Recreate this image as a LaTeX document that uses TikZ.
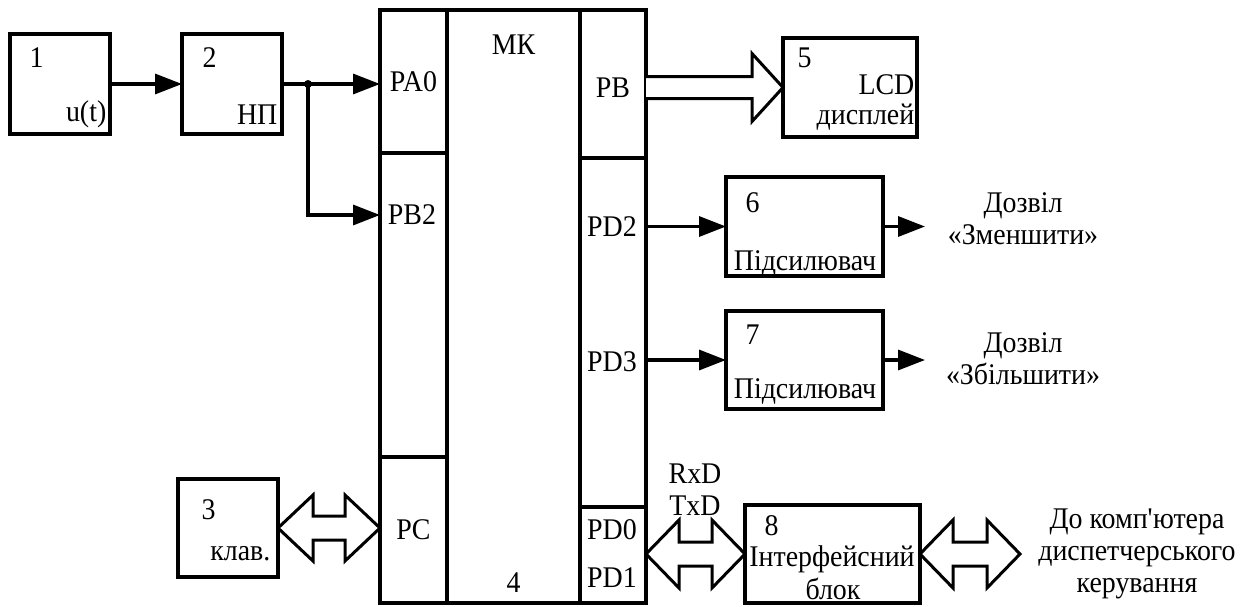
\documentclass[tikz,border=0pt]{standalone}
\usepackage{fontspec}
\setmainfont{Liberation Serif}[FakeStretch=0.93]
\usetikzlibrary{arrows.meta, positioning, calc}

\tikzset{
	blk/.style={draw, rectangle, line width=3.3pt, inner sep=0pt, outer sep=0pt, minimum width=100pt, minimum height=100pt},
	cell/.style={draw, rectangle, line width=3.3pt, inner sep=0pt, outer sep=0pt, minimum width=67pt},
	txt/.style={inner sep=0.5pt},
	sig/.style={line width=3.3pt, -{Triangle[length=27pt, width=20pt]}},
	hollow/.style={draw, line width=3pt, fill=white, line join=miter}
}

\begin{document}
\begin{tikzpicture}[x=1pt, y=-1pt, font=\fontsize{30}{32}\selectfont]
	\useasboundingbox (0,0) rectangle (1251,606);

	\node[blk] (b1) at (60,84) {};
	\node[blk] (b2) [right=72pt of b1] {};
	\node[blk, minimum height=98pt] (b3) at (228,528) {};

	\node[cell, minimum height=143pt, anchor=north west] (pa0) at (380,10) {PA0};
	\node[cell, minimum height=304pt] (pb2) [below=0pt of pa0] {};
	\node[cell, minimum height=146pt] (pc) [below=0pt of pb2] {PC};
	\node[cell, minimum width=133pt, minimum height=593pt] (mk) [below right=0pt and 0pt of pa0.north east] {};
	\node[cell, minimum width=66pt, minimum height=148pt] (pb) [below right=0pt and 0pt of mk.north east] {};
	\node[cell, minimum width=66pt, minimum height=349pt] (pd) [below=0pt of pb] {};
	\node[cell, minimum width=66pt, minimum height=96pt] (pdl) [below=0pt of pd] {};

	\node[blk, minimum width=134pt, minimum height=99pt] (b5) at (850,87.5) {};
	\node[blk, minimum width=157pt, minimum height=99pt] (b6) at (804.5,226.5) {};
	\node[blk, minimum width=157pt, minimum height=98pt] (b7) [below=35pt of b6] {};
	\node[blk, minimum width=175pt, minimum height=98pt] (b8) at (832.5,554) {};

	\node[txt] (n1) [below right=13pt and 19pt of b1.north west] {1};
	\node[txt] (n2) [below right=13pt and 20pt of b2.north west] {2};
	\node[txt] (n3) [below right=20pt and 23pt of b3.north west] {3};
	\node[txt] (n5) [below right=9pt and 14pt of b5.north west] {5};
	\node[txt] (n6) [below right=15pt and 19pt of b6.north west] {6};
	\node[txt] (n7) [below right=13pt and 19pt of b7.north west] {7};
	\node[txt] (n8) [below right=10pt and 19pt of b8.north west] {8};
	\node[txt] (mkname) [below=24pt of mk.north] {МК};
	\node[txt] (mknum) [above=10pt of mk.south] {4};

	\node[txt] (ut) [above left=5pt and 3pt of b1.south east] {u(t)};
	\node[txt] (np) [above left=9pt and 4pt of b2.south east] {НП};
	\node[txt] (kb) [above left=15pt and 7pt of b3.south east] {клав.};
	\node[txt, anchor=east] (lcd) at (915,85) {LCD};
	\node[txt, anchor=east] (disp) at (915,117) {дисплей};
	\node[txt] (amp1) at (805,263) {Підсилювач};
	\node[txt] (amp2) at (805,391) {Підсилювач};
	\node[txt] (ifc) at (832,559) {Інтерфейсний};
	\node[txt] (ifc2) at (833,589) {блок};

	\node[txt] (pbtxt) at (613,88) {PB};
	\node[txt] (pb2txt) at (412,215) {PB2};
	\node[txt] (pd2txt) at (612,227) {PD2};
	\node[txt] (pd3txt) at (612,362) {PD3};
	\node[txt] (pd0txt) at (612,530) {PD0};
	\node[txt] (pd1txt) at (612,578) {PD1};
	\node[txt] (rxd) at (695,474) {RxD};
	\node[txt] (txd) at (695,506) {TxD};

	\node[txt, align=center] (dec) at (1023,219) {Дозвіл\\«Зменшити»};
	\node[txt, align=center] (inc) at (1023,359) {Дозвіл\\«Збільшити»};
	\node[txt, align=center] (pclink) at (1137,554) {До комп\textquotesingle ютера\\диспетчерського\\керування};

	\coordinate (split) at ([xshift=26pt]b2.east);
	\coordinate (decin) at ([xshift=42pt]b6.east);
	\coordinate (incin) at ([xshift=42pt]b7.east);
	\coordinate (far) at ([xshift=100pt]b8.east);

	\draw[sig] (b1) -- (b2);
	\draw[sig] (b2.east) -- (b2.east -| pa0.west);
	\draw[sig] (split) |- (pb2txt -| pb2.west);
	\fill (split) circle (4pt);
	\draw[sig] (b6.west -| pd.east) -- (b6.west);
	\draw[sig] (b7.west -| pd.east) -- (b7.west);
	\draw[sig] (b6.east) -- (decin);
	\draw[sig] (b7.east) -- (incin);

	\draw[hollow] ($(b5.west -| pb.east)+(0,-11)$) -- ++(106,0) -- ++(0,-23) -- (b5.west) -- ++(-31,34) -- ++(0,-23) -- ++(-106,0);
	\draw[hollow] (b3.east) -- ++(35,-33) -- ++(0,21) -- ++(32,0) -- ++(0,-21) -- (b3.east -| pc.west) -- ++(-35,33) -- ++(0,-21) -- ++(-32,0) -- ++(0,21) -- cycle;
	\draw[hollow] (b8.west -| pdl.east) -- ++(33,-34) -- ++(0,22) -- ++(33,0) -- ++(0,-22) -- (b8.west) -- ++(-33,34) -- ++(0,-22) -- ++(-33,0) -- ++(0,22) -- cycle;
	\draw[hollow] (b8.east) -- ++(33,-34) -- ++(0,22) -- ++(34,0) -- ++(0,-22) -- (far) -- ++(-33,34) -- ++(0,-22) -- ++(-34,0) -- ++(0,22) -- cycle;
\end{tikzpicture}
\end{document}
